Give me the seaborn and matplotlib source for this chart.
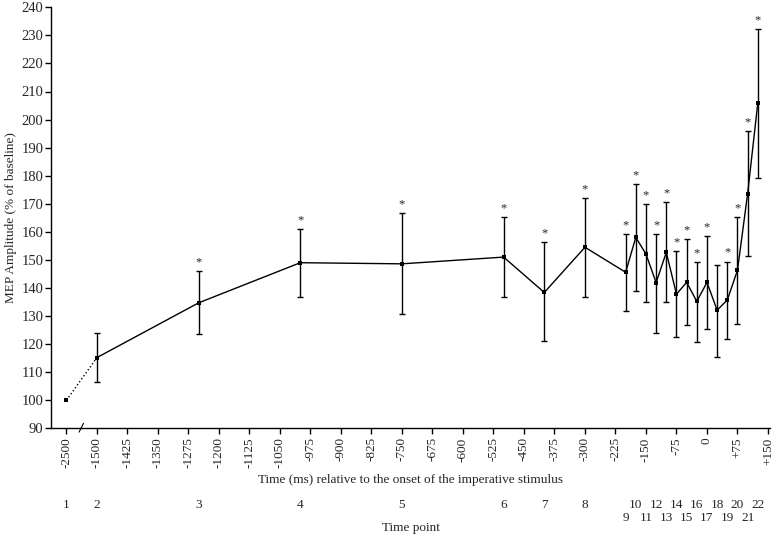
import matplotlib
matplotlib.use("Agg")
import matplotlib.pyplot as plt
import seaborn as sns
import pandas as pd
import numpy as np

# data
time_point = list(range(1, 23))
time_ms = [-2500, -1500, -1250, -1000, -750, -500, -400, -300, -200, -175, -150,
           -125, -100, -75, -50, -25, 0, 25, 50, 75, 100, 125]
mep_mean = [100, 115.2, 134.7, 149.0, 148.6, 151.0, 138.4, 154.5, 145.6, 158.0, 152.1,
            141.9, 152.7, 137.8, 142.0, 135.2, 142.0, 132.1, 135.7, 146.3, 173.6, 205.9]
mep_upper = [np.nan, 123.8, 145.9, 161.1, 166.8, 165.3, 156.3, 171.9, 159.2, 177.1, 169.8,
             159.2, 170.7, 153.2, 157.4, 149.1, 158.5, 148.3, 149.4, 165.2, 196.0, 232.1]
mep_lower = [np.nan, 106.5, 123.6, 136.8, 130.7, 136.8, 121.1, 136.7, 131.9, 138.8, 135.0,
             124.1, 134.9, 122.5, 126.8, 120.9, 125.5, 115.5, 121.7, 127.0, 151.4, 179.3]
significant = [False, False, True, True, True, True, True, True, True, True, True,
               True, True, True, True, True, True, False, True, True, True, True]

xtick_ms = list(range(-1500, 151, 75))
xtick_labels = ["-2500"] + [("+%d" % t if t > 0 else str(t)) for t in xtick_ms]

# the baseline point (-2500 ms) sits one tick left of -1500 on a broken axis
BREAK_POS = -1575
pos = [BREAK_POS if t == -2500 else t for t in time_ms]

df = pd.DataFrame({"tp": time_point, "ms": time_ms, "pos": pos, "mean": mep_mean,
                   "upper": mep_upper, "lower": mep_lower, "sig": significant})

sns.set_style("ticks")
plt.rcParams["font.family"] = ["Liberation Serif", "DejaVu Serif"]
plt.rcParams["font.size"] = 9.5

fig = plt.figure(figsize=(7.76, 5.38), dpi=100)
ax = fig.add_axes([51 / 776, (538 - 428.3) / 538, 719 / 776, 421 / 538])

# dotted link from baseline to first post-baseline point
ax.plot(df["pos"][:2], df["mean"][:2], ls=":", color="black", lw=1)
sns.lineplot(data=df.iloc[1:], x="pos", y="mean", sort=False, color="black",
             lw=1, ax=ax, marker="s", markersize=3.2, markeredgewidth=0)
ax.plot(df["pos"][:1], df["mean"][:1], "s", color="black", ms=3.2, mew=0)

err = df.iloc[1:]
ax.errorbar(err["pos"], err["mean"],
            yerr=[err["mean"] - err["lower"], err["upper"] - err["mean"]],
            fmt="none", ecolor="black", elinewidth=1, capsize=2.5, capthick=1)

for _, r in df[df["sig"]].iterrows():
    ax.text(r["pos"], r["upper"] + 1.0, "*", ha="center", va="bottom", fontsize=9)

ax.set_xlim(-1613, 155)
ax.set_ylim(90, 240)
ax.set_yticks(range(90, 241, 10))
ax.set_xticks([BREAK_POS] + xtick_ms)
ax.set_xticklabels(xtick_labels, rotation=90, va="top")
ax.tick_params(length=4.5, width=1, color="black", pad=2)
ax.tick_params(axis="y", labelsize=10.5, pad=1)
ax.tick_params(axis="x", labelsize=9.5)
for s in ["top", "right"]:
    ax.spines[s].set_visible(False)
for s in ["left", "bottom"]:
    ax.spines[s].set_linewidth(1)
    ax.spines[s].set_color("black")

ax.set_ylabel("MEP Amplitude (% of baseline)", fontsize=9.5, labelpad=3)
ax.set_xlabel("")
ax.text(0.5, -0.123, "Time (ms) relative to the onset of the imperative stimulus",
        transform=ax.transAxes, ha="center", va="center", fontsize=9.5)

# axis break mark
trans = ax.get_xaxis_transform()
ax.plot([-1544, -1533], [-0.009, 0.012], transform=trans, color="black", lw=0.8, clip_on=False)

# time point numbers under the axis
for _, r in df.iterrows():
    tp = int(r["tp"])
    row_y = -0.214 if (9 <= tp <= 21 and tp % 2 == 1) else -0.183
    ax.text(r["pos"], row_y, str(tp), transform=trans, ha="center", va="center", fontsize=9.5)
ax.text(0.5, -0.236, "Time point", transform=ax.transAxes, ha="center", va="center", fontsize=9.5)

fig.savefig("out.png", dpi=100)
